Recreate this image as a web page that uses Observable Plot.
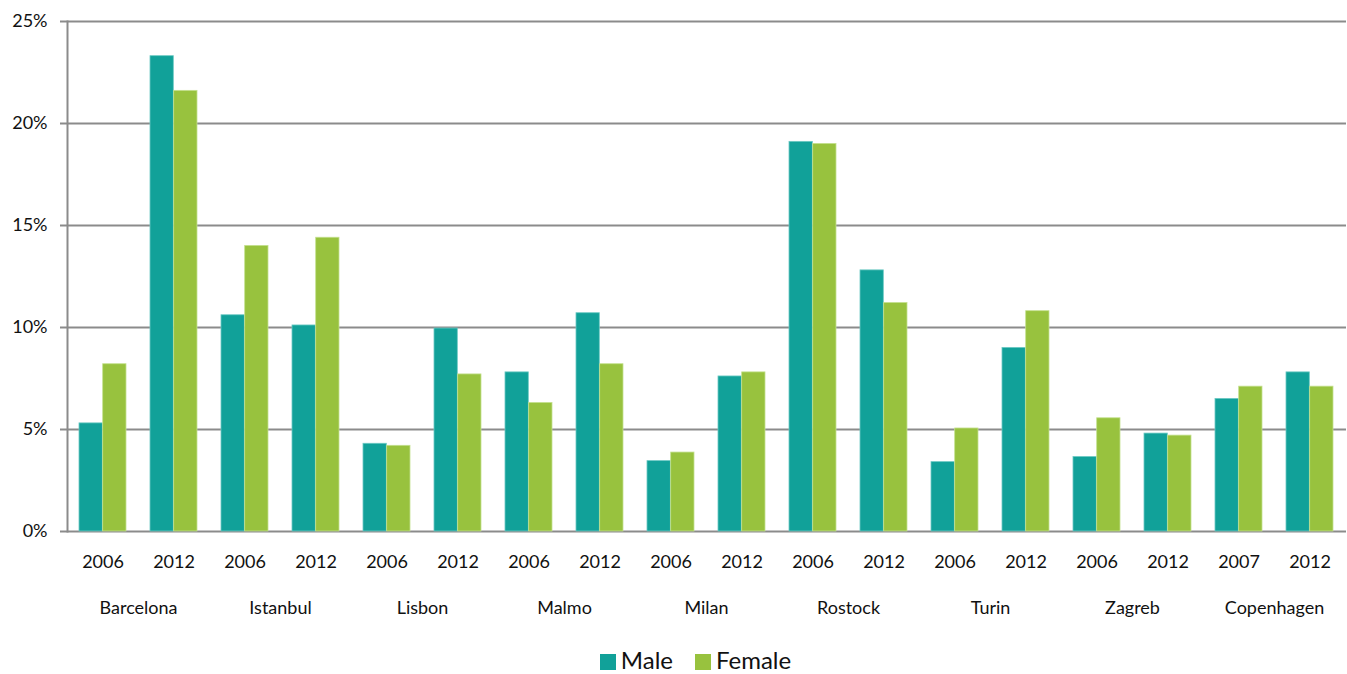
<!DOCTYPE html>
<html>
<head>
<meta charset="utf-8">
<script src="https://cdn.jsdelivr.net/npm/d3@7"></script>
<script src="https://cdn.jsdelivr.net/npm/@observablehq/plot@0.6"></script>
<style>
  html, body { margin: 0; padding: 0; background: #fff; }
  body { width: 1347px; font-family: Lato, "Open Sans", sans-serif; }
  #legend { display: flex; justify-content: center; align-items: center; gap: 22px; height: 28px; padding-top: 6px; padding-left: 44px; font-size: 24px; line-height: 24px; color: #111; }
  .item { display: flex; align-items: center; gap: 5px; }
  .sw { width: 16px; height: 16px; display: inline-block; position: relative; top: 2px; }
</style>
</head>
<body>
<div id="chart"></div>
<div id="legend"></div>
<script>
const cities = ["Barcelona", "Istanbul", "Lisbon", "Malmo", "Milan", "Rostock", "Turin", "Zagreb", "Copenhagen"];
const groupCities = ["Barcelona","Barcelona","Istanbul","Istanbul","Lisbon","Lisbon","Malmo","Malmo","Milan","Milan","Rostock","Rostock","Turin","Turin","Zagreb","Zagreb","Copenhagen","Copenhagen"];
const groupYears  = ["2006","2012","2006","2012","2006","2012","2006","2012","2006","2012","2006","2012","2006","2012","2006","2012","2007","2012"];
const maleValues   = [5.3, 23.3, 10.6, 10.1, 4.3, 9.95, 7.8, 10.7, 3.45, 7.6, 19.1, 12.8, 3.4, 9.0, 3.65, 4.8, 6.5, 7.8];
const femaleValues = [8.2, 21.6, 14.0, 14.4, 4.2, 7.7, 6.3, 8.2, 3.87, 7.8, 19.0, 11.2, 5.05, 10.8, 5.55, 4.7, 7.1, 7.1];
const yTicks = [0, 5, 10, 15, 20, 25];
const seriesNames = ["Male", "Female"];
const seriesColors = ["#11a199", "#98c23e"];
const seriesEdges = ["#6cc9c3", "#c4e08e"];

const keys = groupCities.map((c, i) => c + " " + groupYears[i]);
const rows = [];
keys.forEach((k, i) => {
  rows.push({key: k, sex: "Male", value: maleValues[i]});
  rows.push({key: k, sex: "Female", value: femaleValues[i]});
});
const cityRows = cities.map(c => ({city: c, key: keys[groupCities.indexOf(c)]}));

const width = 1347, height = 640;
const marginLeft = 67, marginRight = 1, marginTop = 21, marginBottom = 109;
const pInner = 1/3, pOuter = 1/6;
const step = (width - marginLeft - marginRight) / (keys.length - pInner + 2 * pOuter);
const bw = step * (1 - pInner);
const gray = "#8b8b8b";
const font = "Lato, 'Open Sans', sans-serif";

const chart = Plot.plot({
  width, height, marginLeft, marginRight, marginTop, marginBottom,
  style: {fontFamily: font, fontSize: "18px", color: "#111", background: "#fff"},
  x: {domain: keys, paddingInner: pInner, paddingOuter: pOuter, label: null},
  y: {domain: [0, 25], label: null},
  color: {domain: seriesNames, range: seriesColors},
  marks: [
    Plot.ruleY(yTicks, {stroke: gray, strokeWidth: 2}),
    Plot.frame({anchor: "left", stroke: gray, strokeWidth: 2}),
    Plot.axisY({ticks: yTicks, tickFormat: d => d + "%", tickSize: 7, stroke: gray, strokeWidth: 2, tickPadding: 13, fontSize: 18, label: null}),
    Plot.barY(rows.filter(d => d.sex === "Male"), {x: "key", y: "value", fill: "sex", stroke: seriesEdges[0], strokeWidth: 0.8, insetRight: bw / 2}),
    Plot.barY(rows.filter(d => d.sex === "Female"), {x: "key", y: "value", fill: "sex", stroke: seriesEdges[1], strokeWidth: 0.8, insetLeft: bw / 2}),
    Plot.axisX({tickSize: 0, tickPadding: 24, tickFormat: k => groupYears[keys.indexOf(k)], fontSize: 18, label: null}),
    Plot.text(cityRows, {x: "key", text: "city", frameAnchor: "bottom", dx: step / 2, dy: 82, fontSize: 18, fill: "#111"})
  ]
});
document.getElementById("chart").appendChild(chart);

const legend = document.getElementById("legend");
seriesNames.forEach((s, i) => {
  const it = document.createElement("span");
  it.className = "item";
  it.innerHTML = `<span class="sw" style="background:${seriesColors[i]}"></span><span>${s}</span>`;
  legend.appendChild(it);
});
</script>
</body>
</html>
